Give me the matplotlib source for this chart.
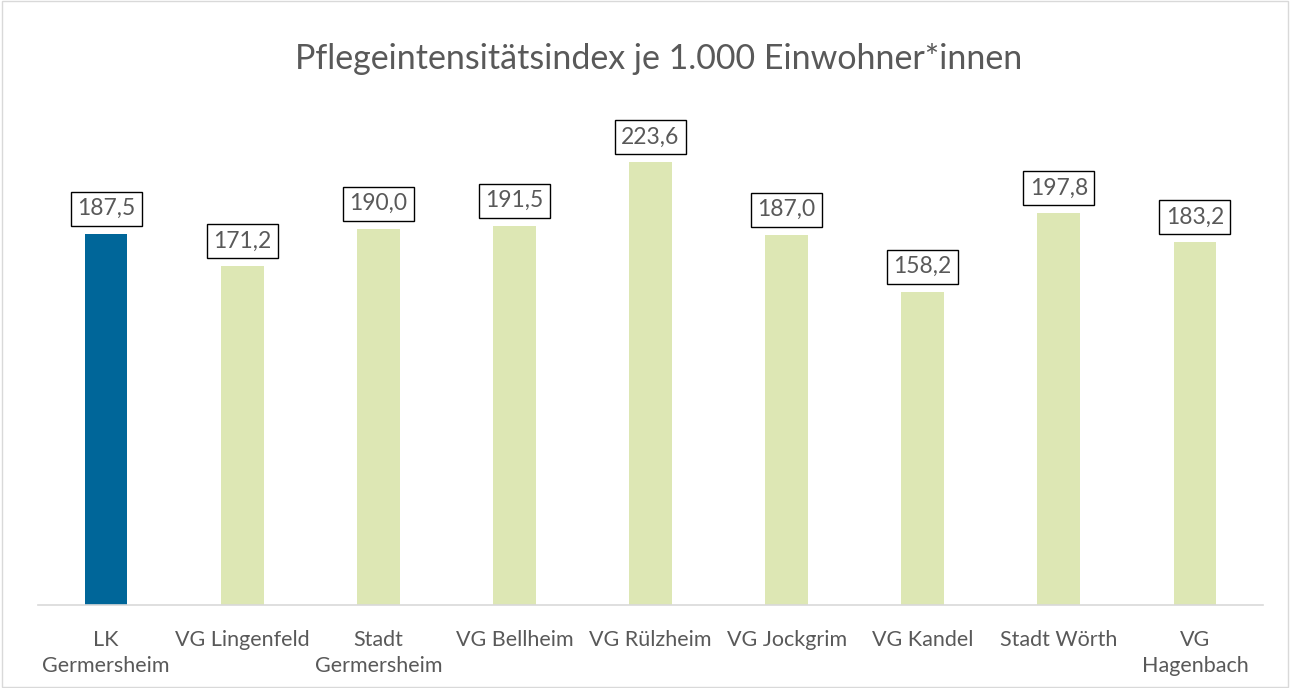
import numpy as np
import matplotlib.pyplot as plt
from matplotlib.patches import Rectangle

plt.rcParams['font.family'] = ['Lato', 'DejaVu Sans']

categories = ['LK\nGermersheim', 'VG Lingenfeld', 'Stadt\nGermersheim', 'VG Bellheim',
              'VG Rülzheim', 'VG Jockgrim', 'VG Kandel', 'Stadt Wörth', 'VG\nHagenbach']
values = [187.5, 171.2, 190.0, 191.5, 223.6, 187.0, 158.2, 197.8, 183.2]
labels = ['187,5', '171,2', '190,0', '191,5', '223,6', '187,0', '158,2', '197,8', '183,2']
title = 'Pflegeintensitätsindex je 1.000 Einwohner*innen'

blue = '#006699'
green = '#DDE7B4'
grey = '#595959'

fig = plt.figure(figsize=(12.9, 6.88), dpi=100)
# chart area border
fig.patches.append(Rectangle((0.0015, 0.002), 0.997, 0.996, transform=fig.transFigure,
                             fill=False, edgecolor='#D9D9D9', linewidth=1))

ax = fig.add_axes([38 / 1290, 1 - 605 / 688, (1263 - 38) / 1290, (605 - 110) / 688])
x = np.arange(len(values))
colors = [blue] + [green] * (len(values) - 1)
ax.bar(x, values, width=0.315, color=colors)
ax.set_xlim(-0.5, len(values) - 0.5)
ax.set_ylim(0, 250)

for xi, v, lab in zip(x, values, labels):
    ax.annotate(lab, (xi, v), xytext=(0, 10.5), textcoords='offset points',
                ha='center', va='bottom', fontsize=16.5, color=grey,
                bbox=dict(boxstyle='square,pad=0.28', fc='white', ec='black', lw=1))

ax.set_xticks(x)
ax.set_xticklabels(categories, fontsize=15.5, color=grey, linespacing=1.35)
ax.tick_params(axis='x', length=0, pad=18)
ax.set_yticks([])
for s in ['top', 'right', 'left']:
    ax.spines[s].set_visible(False)
ax.spines['bottom'].set_color('#D9D9D9')
ax.spines['bottom'].set_linewidth(1.2)

fig.text(659 / 1290, 1 - 59 / 688, title, ha='center', va='center', fontsize=24.5, color=grey)

fig.savefig('out.png', dpi=100)
